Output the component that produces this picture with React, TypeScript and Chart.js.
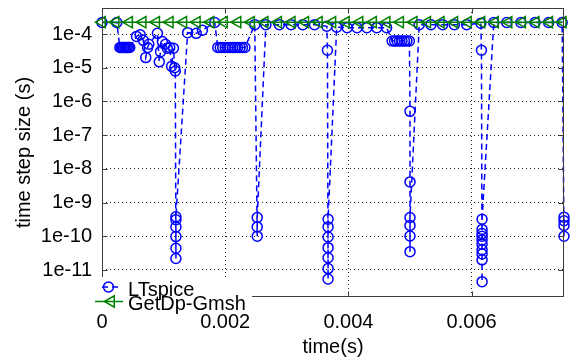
import React, { useEffect, useRef } from 'react';
import { Chart, registerables } from 'chart.js';

Chart.register(...registerables);

const seriesNames = ['LTspice', 'GetDp-Gmsh'];

const ltTime = [
  0, 0.00024,
  0.00029, 0.00031, 0.00033, 0.00035, 0.00037, 0.00039, 0.00041, 0.00043, 0.00045,
  0.00056, 0.00062, 0.00067, 0.00071, 0.00074, 0.00076, 0.0009, 0.00093, 0.00095, 0.00098,
  0.00103, 0.00106, 0.0011, 0.00113, 0.00116, 0.00118, 0.00119,
  0.0012, 0.0012, 0.0012, 0.0012, 0.0012, 0.0012,
  0.00139, 0.00153, 0.00163, 0.00183,
  0.00188, 0.00192, 0.00196, 0.002, 0.00204, 0.00208, 0.00212, 0.00216, 0.0022, 0.00224, 0.00228, 0.00232,
  0.00248,
  0.00252, 0.00252, 0.00252,
  0.00266, 0.00288, 0.00307, 0.00326, 0.00345,
  0.00365, 0.00366,
  0.00367, 0.00367, 0.00367, 0.00367, 0.00367, 0.00367, 0.00367,
  0.00381, 0.00398, 0.00414, 0.0043, 0.00446, 0.00462,
  0.00471, 0.00475, 0.00479, 0.00483, 0.00487, 0.00491, 0.00495, 0.00499,
  0.005, 0.005,
  0.005, 0.005, 0.005, 0.005,
  0.00515, 0.00534, 0.00553, 0.00572, 0.00592,
  0.00615, 0.00616,
  0.00617, 0.00617, 0.00617, 0.00617, 0.00617, 0.00617, 0.00617, 0.00617, 0.00617, 0.00617,
  0.00636, 0.00657, 0.0068, 0.00703, 0.00725, 0.00747,
  0.0075, 0.0075, 0.0075, 0.0075,
];

const ltStep = [
  2.2e-4, 2.2e-4,
  4e-5, 4e-5, 4e-5, 4e-5, 4e-5, 4e-5, 4e-5, 4e-5, 4e-5,
  8.5e-5, 9.5e-5, 6.5e-5, 2.0e-5, 4.0e-5, 5.0e-5, 1.05e-4, 1.5e-5, 3.0e-5, 6.0e-5,
  5.0e-5, 3.8e-5, 4.0e-5, 1.1e-5, 3.8e-5, 1.0e-5, 8e-6,
  2.2e-11, 4.4e-11, 9.8e-11, 1.9e-10, 3.1e-10, 3.8e-10,
  1.1e-4, 1.05e-4, 1.3e-4, 2.2e-4,
  4e-5, 4e-5, 4e-5, 4e-5, 4e-5, 4e-5, 4e-5, 4e-5, 4e-5, 4e-5, 4e-5, 4e-5,
  1.9e-4,
  1e-10, 1.9e-10, 3.6e-10,
  1.9e-4, 1.9e-4, 1.9e-4, 1.9e-4, 1.9e-4,
  1.7e-4, 3.3e-5,
  5.4e-12, 1.1e-11, 2.3e-11, 4.6e-11, 9.5e-11, 1.9e-10, 3.2e-10,
  1.6e-4, 1.55e-4, 1.55e-4, 1.55e-4, 1.55e-4, 1.55e-4,
  6.2e-5, 6.2e-5, 6.2e-5, 6.2e-5, 6.2e-5, 6.2e-5, 6.2e-5, 6.2e-5,
  5.1e-7, 4.1e-9,
  3.5e-11, 1.02e-10, 2.1e-10, 3.6e-10,
  1.9e-4, 1.9e-4, 1.9e-4, 1.9e-4, 1.9e-4,
  2.1e-4, 3.3e-5,
  4.5e-12, 2e-11, 3e-11, 4e-11, 5.8e-11, 7.8e-11, 1e-10, 1.2e-10, 1.6e-10, 3.2e-10,
  2.2e-4, 2.2e-4, 2.2e-4, 2.2e-4, 2.2e-4, 2.2e-4,
  1e-10, 2.1e-10, 2.9e-10, 3.7e-10,
];

const gdTime = [
  0, 0.00022, 0.00044, 0.00066, 0.00088, 0.0011, 0.00132, 0.00154, 0.00176, 0.00198,
  0.0022, 0.00242, 0.00264, 0.00286, 0.00308, 0.0033, 0.00352, 0.00374, 0.00396, 0.00418,
  0.0044, 0.00462, 0.00484, 0.00506, 0.00528, 0.0055, 0.00572, 0.00594, 0.00616, 0.00638,
  0.0066, 0.00682, 0.00704, 0.00726, 0.00748,
];

const gdStep = [
  2.25e-4, 2.25e-4, 2.25e-4, 2.25e-4, 2.25e-4, 2.25e-4, 2.25e-4, 2.25e-4, 2.25e-4, 2.25e-4,
  2.25e-4, 2.25e-4, 2.25e-4, 2.25e-4, 2.25e-4, 2.25e-4, 2.25e-4, 2.25e-4, 2.25e-4, 2.25e-4,
  2.25e-4, 2.25e-4, 2.25e-4, 2.25e-4, 2.25e-4, 2.25e-4, 2.25e-4, 2.25e-4, 2.25e-4, 2.25e-4,
  2.25e-4, 2.25e-4, 2.25e-4, 2.25e-4, 2.25e-4,
];

const xTickValues = [0, 0.002, 0.004, 0.006];
const xTickLabels = ['0', '0.002', '0.004', '0.006'];
const yTickValues = [1e-11, 1e-10, 1e-9, 1e-8, 1e-7, 1e-6, 1e-5, 1e-4];
const yTickLabels = ['1e-11', '1e-10', '1e-9', '1e-8', '1e-7', '1e-6', '1e-5', '1e-4'];

const xTitle = 'time(s)';
const yTitle = 'time step size (s)';

const FONT = '"Liberation Sans", Arial, Helvetica, sans-serif';
const BLUE = '#0000ff';
const GREEN = '#008000';
const AXIS = '#3c3c3c';

function labelFor(values: number[], labels: string[], v: number, log = false) {
  let best = 0;
  let bd = Infinity;
  values.forEach((t, i) => {
    const d = log ? Math.abs(Math.log10(t) - Math.log10(v)) : Math.abs(t - v);
    if (d < bd) { bd = d; best = i; }
  });
  return labels[best];
}

const framePlugin = {
  id: 'frame',
  afterDatasetsDraw(chart: any) {
    const { ctx, chartArea: a, scales } = chart;
    const L = Math.round(a.left) + 0.5;
    const R = Math.round(a.right) - 0.5;
    const T = Math.round(a.top) + 0.5;
    const B = Math.round(a.bottom) - 0.5;
    ctx.save();
    ctx.setLineDash([]);
    ctx.strokeStyle = AXIS;
    ctx.lineWidth = 1;
    ctx.strokeRect(L, T, R - L, B - T);
    ctx.beginPath();
    for (const v of yTickValues) {
      const y = Math.round(scales.y.getPixelForValue(v)) + 0.5;
      ctx.moveTo(L, y); ctx.lineTo(L + 5, y);
      ctx.moveTo(R, y); ctx.lineTo(R - 5, y);
    }
    for (const v of xTickValues) {
      const x = Math.round(scales.x.getPixelForValue(v)) + 0.5;
      ctx.moveTo(x, B); ctx.lineTo(x, B - 5);
      ctx.moveTo(x, T); ctx.lineTo(x, T + 5);
    }
    ctx.stroke();

    // legend (south-west, white background)
    const lx = a.left;
    const by = a.bottom;
    ctx.fillStyle = '#ffffff';
    ctx.fillRect(lx - 10, by - 20, 160, 35);

    const y1 = by - 10;
    ctx.strokeStyle = BLUE;
    ctx.lineWidth = 1.5;
    ctx.setLineDash([6, 4]);
    ctx.beginPath();
    ctx.moveTo(lx, y1); ctx.lineTo(lx + 20, y1);
    ctx.stroke();
    ctx.setLineDash([]);
    ctx.beginPath();
    ctx.arc(lx + 6.5, y1, 5, 0, Math.PI * 2);
    ctx.stroke();

    const y2 = by + 4.5;
    ctx.strokeStyle = GREEN;
    ctx.beginPath();
    ctx.moveTo(lx - 7, y2); ctx.lineTo(lx + 21, y2);
    ctx.stroke();
    const tx = lx + 9;
    const r = 6.5;
    ctx.beginPath();
    ctx.moveTo(tx - r, y2);
    ctx.lineTo(tx + r / 2, y2 - r * 0.866);
    ctx.lineTo(tx + r / 2, y2 + r * 0.866);
    ctx.closePath();
    ctx.stroke();

    ctx.fillStyle = '#000';
    ctx.font = `20px ${FONT}`;
    ctx.textAlign = 'left';
    ctx.textBaseline = 'alphabetic';
    ctx.fillText(seriesNames[0], lx + 26, by - 1);
    ctx.fillText(seriesNames[1], lx + 26, by + 13);
    ctx.restore();
  },
};

export default function App() {
  const ref = useRef<HTMLCanvasElement>(null);
  useEffect(() => {
    document.body.style.margin = '0';
    const canvas = ref.current;
    if (!canvas) return;
    const chart = new Chart(canvas, {
      type: 'line',
      data: {
        datasets: [
          {
            label: seriesNames[0],
            data: ltTime.map((t, i) => ({ x: t, y: ltStep[i] })),
            borderColor: BLUE,
            borderWidth: 1.5,
            borderDash: [6, 4],
            pointStyle: 'circle',
            pointRadius: 5,
            pointBorderWidth: 1.5,
            pointBorderColor: BLUE,
            pointBackgroundColor: 'rgba(0,0,0,0)',
            fill: false,
            tension: 0,
            clip: false as any,
            order: 1,
          },
          {
            label: seriesNames[1],
            data: gdTime.map((t, i) => ({ x: t, y: gdStep[i] })),
            borderColor: GREEN,
            borderWidth: 1.5,
            pointStyle: 'triangle',
            pointRotation: -90,
            pointRadius: 6.5,
            pointBorderWidth: 1.5,
            pointBorderColor: GREEN,
            pointBackgroundColor: 'rgba(0,0,0,0)',
            fill: false,
            tension: 0,
            clip: false as any,
            order: 0,
          },
        ],
      },
      options: {
        responsive: false,
        animation: false,
        events: [],
        layout: { padding: { top: 3, right: 10, left: 0, bottom: 0 } },
        plugins: { legend: { display: false }, tooltip: { enabled: false } },
        scales: {
          x: {
            type: 'linear',
            min: 0,
            max: 0.0075,
            afterBuildTicks: (s: any) => { s.ticks = xTickValues.map((v) => ({ value: v })); },
            afterFit: (s: any) => { s.height = 67; s.paddingLeft = 0; s.paddingRight = 0; },
            ticks: {
              padding: 13,
              color: '#000',
              autoSkip: false,
              maxRotation: 0,
              font: { family: FONT, size: 20 },
              callback: (v: any) => labelFor(xTickValues, xTickLabels, Number(v)),
            },
            grid: { color: 'rgba(0,0,0,0.85)', lineWidth: 1, drawTicks: false },
            border: { display: false, dash: [1, 3] },
            title: {
              display: true,
              text: xTitle,
              color: '#000',
              font: { family: FONT, size: 20 },
              padding: { top: 0, bottom: 5 },
            },
          },
          y: {
            type: 'logarithmic',
            min: 1.58e-12,
            max: 5.93e-4,
            afterBuildTicks: (s: any) => { s.ticks = yTickValues.map((v) => ({ value: v })); },
            afterFit: (s: any) => { s.width = 102; s.paddingTop = 0; s.paddingBottom = 0; },
            ticks: {
              padding: 10,
              color: '#000',
              autoSkip: false,
              font: { family: FONT, size: 20 },
              callback: (v: any) => labelFor(yTickValues, yTickLabels, Number(v), true),
            },
            grid: { color: 'rgba(0,0,0,0.85)', lineWidth: 1, drawTicks: false },
            border: { display: false, dash: [1, 3] },
            title: {
              display: true,
              text: yTitle,
              color: '#000',
              font: { family: FONT, size: 20 },
              padding: { top: 12, bottom: 0 },
            },
          },
        },
      } as any,
      plugins: [framePlugin],
    });
    return () => chart.destroy();
  }, []);
  return (
    <div style={{ width: 574, height: 364, position: 'relative' }}>
      <canvas ref={ref} width={574} height={364} style={{ display: 'block' }} />
    </div>
  );
}
